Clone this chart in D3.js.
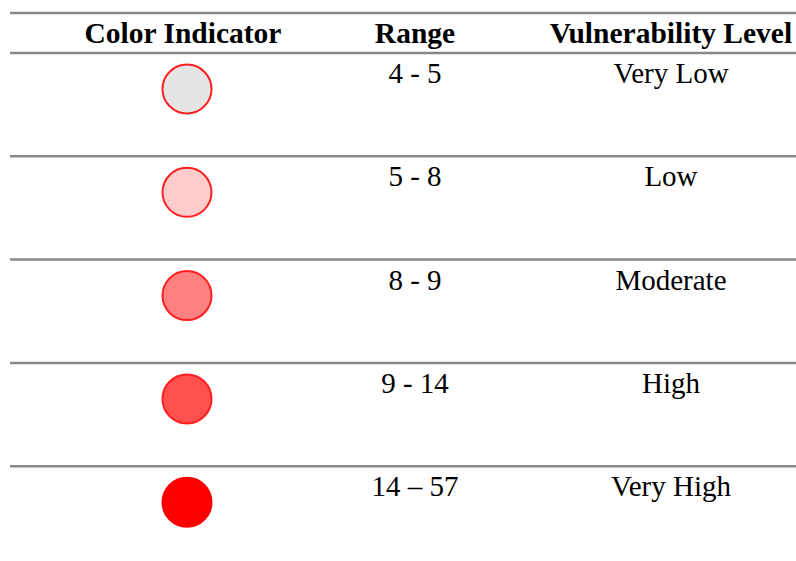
<!DOCTYPE html>
<html>
<head>
<meta charset="utf-8">
<script src="https://cdn.jsdelivr.net/npm/d3@7"></script>
<style>
  body { margin: 0; background: #fff; }
  text { font-family: "Liberation Serif", "Times New Roman", serif; fill: #000; }
</style>
</head>
<body>
<div id="chart"></div>
<script>
// table data
let headers = ["Color Indicator", "Range", "Vulnerability Level"];
let fills = ["#e5e5e5", "#ffcccc", "#ff8080", "#ff5050", "#ff0000"];
let strokes = ["#ff2020", "#ff2020", "#ff2020", "#ff2020", "#ff0000"];
let ranges = ["4 - 5", "5 - 8", "8 - 9", "9 - 14", "14 \u2013 57"];
let levels = ["Very Low", "Low", "Moderate", "High", "Very High"];

let width = 796, height = 561;

let svg = d3.select("#chart").append("svg")
    .attr("width", width)
    .attr("height", height);

// column centres
let x = d3.scaleOrdinal()
    .domain(headers)
    .range([183, 415, 671]);

// rows: each band starts on its separator line
let y = d3.scaleBand()
    .domain(d3.range(levels.length))
    .range([53, 53 + 103.3 * levels.length])
    .paddingInner(0);

let rules = [13, 53].concat(d3.range(1, levels.length).map(i => y(i)));

svg.selectAll(".rule")
    .data(rules)
    .enter()
    .append("line")
    .attr("class", "rule")
    .attr("x1", 10)
    .attr("x2", width)
    .attr("y1", d => d)
    .attr("y2", d => d)
    .attr("stroke", "#888")
    .attr("stroke-width", 2.5);

svg.selectAll(".head")
    .data(headers)
    .enter()
    .append("text")
    .attr("class", "head")
    .attr("x", d => x(d))
    .attr("y", 43)
    .attr("text-anchor", "middle")
    .style("font-weight", "bold")
    .style("font-size", "29.5px")
    .text(d => d);

let row = svg.selectAll(".row")
    .data(levels)
    .enter()
    .append("g")
    .attr("class", "row")
    .attr("transform", (d, i) => "translate(0," + y(i) + ")");

row.append("circle")
    .attr("cx", 187)
    .attr("cy", 36)
    .attr("r", 24.5)
    .attr("fill", (d, i) => fills[i])
    .attr("stroke", (d, i) => strokes[i])
    .attr("stroke-width", 2);

row.append("text")
    .attr("x", x(headers[1]))
    .attr("y", 30)
    .attr("text-anchor", "middle")
    .style("font-size", "29px")
    .text((d, i) => ranges[i]);

row.append("text")
    .attr("x", x(headers[2]))
    .attr("y", 30)
    .attr("text-anchor", "middle")
    .style("font-size", "29px")
    .text(d => d);
</script>
</body>
</html>
